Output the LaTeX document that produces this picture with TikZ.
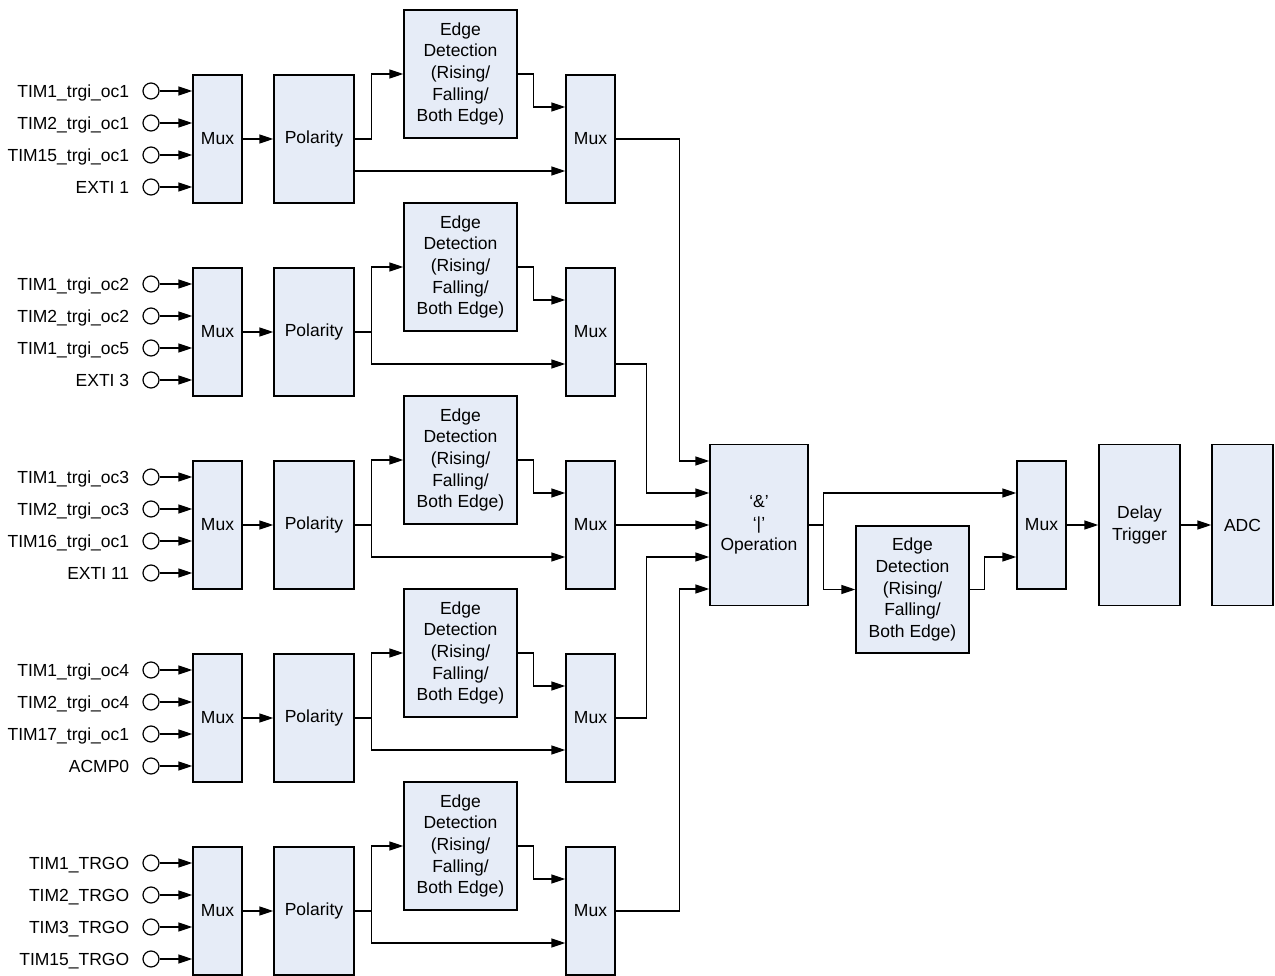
\documentclass[tikz,border=0pt]{standalone}
\usepackage{fontspec}
\setmainfont{Liberation Sans}
\usetikzlibrary{arrows.meta,calc,positioning}
\definecolor{blkfill}{RGB}{230,236,247}
\tikzset{
  box/.style     = {draw, line width=1.4pt, fill=blkfill, inner sep=2pt, align=center},
  mux/.style     = {box, minimum width=49pt, minimum height=128pt},
  polbox/.style  = {box, minimum width=80pt, minimum height=128pt},
  edgebox/.style = {box, minimum width=113pt, minimum height=128pt},
  tallbox/.style = {box, minimum height=161pt},
  port/.style    = {circle, draw, line width=1.2pt, fill=white, minimum size=16pt, inner sep=0pt},
  lbl/.style     = {inner sep=3pt, text height=12.6pt, text depth=0pt},
  sig/.style     = {-{Triangle[length=14pt,width=9pt]}, line width=1.4pt},
}

\begin{document}
\begin{tikzpicture}[x=1pt,y=-1pt,font=\fontsize{17.5}{21.7}\selectfont]
  \useasboundingbox (0,0) rectangle (1275,976);

  \foreach \r/\ta/\tb/\tc/\td in {
      1/TIM1\_trgi\_oc1/TIM2\_trgi\_oc1/TIM15\_trgi\_oc1/EXTI 1,
      2/TIM1\_trgi\_oc2/TIM2\_trgi\_oc2/TIM1\_trgi\_oc5/EXTI 3,
      3/TIM1\_trgi\_oc3/TIM2\_trgi\_oc3/TIM16\_trgi\_oc1/EXTI 11,
      4/TIM1\_trgi\_oc4/TIM2\_trgi\_oc4/TIM17\_trgi\_oc1/ACMP0,
      5/TIM1\_TRGO/TIM2\_TRGO/TIM3\_TRGO/TIM15\_TRGO}{
    \pgfmathsetmacro\yc{139+(\r-1)*193}
    \node[mux]     (mux\r)   at (217.5,\yc)    {Mux};
    \node[polbox]  (pol\r)   at (314,\yc)      {Polarity};
    \node[edgebox] (edgeb\r) at (460.5,\yc-65) {Edge\\Detection\\(Rising/\\Falling/\\Both Edge)};
    \node[mux]     (sel\r)   at (590.5,\yc)    {Mux};
    \foreach \k/\off/\txt in {1/-48/\ta,2/-16/\tb,3/16/\tc,4/48/\td}{
      \pgfmathsetmacro\yy{\yc+\off}
      \node[port] (in\r\k) at (151,\yy) {};
      \node[lbl,left=10pt of in\r\k] (lab\r\k) {\txt};
      \draw[sig] (in\r\k) -- (in\r\k -| mux\r.west);
    }
    \draw[sig] (mux\r) -- (pol\r);
    \draw[sig] (pol\r.east) -- ++(17,0) coordinate (br\r) |- (edgeb\r.west);
    \ifnum\r=1
      \draw[sig] ($(pol\r.east)+(0,32)$) -- ($(sel\r.west)+(0,32)$);
    \else
      \draw[sig] (br\r) |- ($(sel\r.west)+(0,32)$);
    \fi
    \draw[sig] (edgeb\r.east) -- ++(16,0) |- ($(sel\r.west)+(0,-32)$);
  }

  \node[tallbox,minimum width=98pt] (op) at (759,525) {‘\&’\\‘|’\\Operation};
  \node[edgebox,minimum height=127pt] (edgef) at (912.5,589.5) {Edge\\Detection\\(Rising/\\Falling/\\Both Edge)};
  \node[mux] (fmux) at (1041.5,525) {Mux};
  \node[tallbox,minimum width=81pt] (dly) at (1139.5,525) {Delay\\Trigger};
  \node[tallbox,minimum width=61pt] (adc) at (1242.5,525) {ADC};

  \draw[sig] (sel1.east) -- ++(64,0) |- ($(op.west)+(0,-64)$);
  \draw[sig] ($(sel2.east)+(0,32)$) -- ++(31,0) |- ($(op.west)+(0,-32)$);
  \draw[sig] (sel3.east) -- (sel3.east -| op.west);
  \draw[sig] (sel4.east) -- ++(31,0) |- ($(op.west)+(0,32)$);
  \draw[sig] (sel5.east) -- ++(64,0) |- ($(op.west)+(0,64)$);

  \draw[sig] (op.east) -- ++(15,0) coordinate (oj) |- ($(fmux.west)+(0,-32)$);
  \draw[sig] (oj) |- (edgef.west);
  \draw[sig] (edgef.east) -- ++(15,0) |- ($(fmux.west)+(0,32)$);
  \draw[sig] (fmux) -- (dly);
  \draw[sig] (dly) -- (adc);
\end{tikzpicture}
\end{document}
